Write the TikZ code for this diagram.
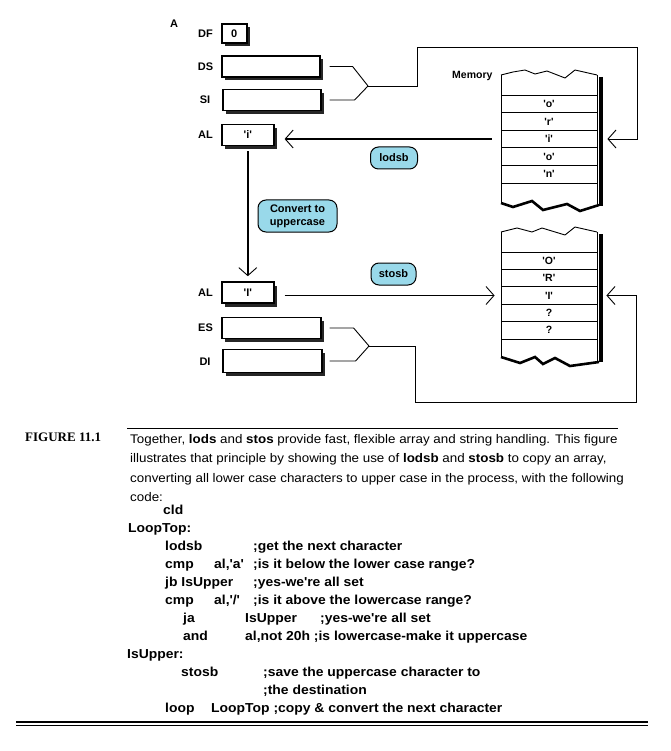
\documentclass[tikz,border=0pt]{standalone}
\usepackage{fontspec}
\setsansfont{Liberation Sans}
\newfontfamily\codefont[FakeStretch=1.07]{Liberation Sans}
\newfontfamily\capfont[FakeStretch=1.07]{Liberation Sans}
\newfontfamily\figfont{Liberation Serif}
\usetikzlibrary{arrows.meta,shadows}
\definecolor{bubbleblue}{RGB}{153,217,234}
\newcommand{\qt}[1]{\textquotesingle#1\textquotesingle}

\begin{document}
\begin{tikzpicture}[x=1pt,y=-1pt,
  lbl/.style={font=\sffamily\bfseries\fontsize{11}{12}\selectfont},
  reg/.style={draw, line width=1.6pt, fill=white, minimum height=21pt, inner sep=0pt,
    anchor=west, font=\sffamily\bfseries\fontsize{11}{12}\selectfont,
    drop shadow={shadow xshift=3.5pt, shadow yshift=-3.5pt, fill=black!85, opacity=1}},
  cell/.style={draw, line width=0.8pt, minimum width=96pt, inner sep=0pt,
    font=\sffamily\bfseries\fontsize{10.5}{11}\selectfont},
  bubble/.style={draw, line width=1pt, fill=bubbleblue, rounded corners=8pt, inner sep=0pt,
    align=center, font=\sffamily\bfseries\fontsize{11}{13}\selectfont},
  wire/.style={line width=0.9pt},
  bus/.style={line width=1.8pt},
  barb/.style={-{Straight Barb[length=8pt,width=18pt,line width=0.9pt]}},
  code/.style={anchor=base west, inner sep=0pt, font=\codefont\bfseries\fontsize{13}{15}\selectfont},
  captxt/.style={anchor=base west, inner sep=0pt, font=\capfont\fontsize{12.5}{15}\selectfont},
]
\useasboundingbox (0,0) rectangle (670,751);

% Registers
\node[lbl] (alabel) at (174,24) {A};
\node[lbl] (dflbl) at (205.5,34) {DF};
\node[reg, minimum width=25pt, minimum height=19pt] (df) at (221,33.5) {0};
\node[lbl] (dslbl) at (205.5,67) {DS};
\node[reg, minimum width=98pt] (ds) at (221,66.5) {};
\node[lbl] (silbl) at (205,100) {SI};
\node[reg, minimum width=98pt] (si) at (222,100) {};
\node[lbl] (allbl) at (205.5,135) {AL};
\node[reg, minimum width=52pt] (al) at (221,135) {\qt{i}};

\node[lbl] (al2lbl) at (205.5,293) {AL};
\node[reg, minimum width=52pt] (al2) at (221,292.5) {\qt{I}};
\node[lbl] (eslbl) at (205.5,328) {ES};
\node[reg, minimum width=99pt] (es) at (221,328) {};
\node[lbl] (dilbl) at (205,362) {DI};
\node[reg, minimum width=99pt, minimum height=23pt] (di) at (222,361) {};

% Memory, source
\node[lbl, anchor=east, font=\sffamily\bfseries\fontsize{10.5}{12}\selectfont] (memlbl) at (496,76) {Memory};
\draw[wire] (501,75) -- (513,72) -- (525,70) -- (535,74) -- (547,71) -- (565,78) -- (575,70) -- (597,75);
\draw[wire] (501,75) -- (501,204);
\draw[wire] (597,75) -- (597,206);
\foreach \t [count=\i] in {o,r,i,o,n}
  \node[cell, minimum height=17.6pt] (ma\i) at (549,{86.2+17.6*\i}) {\qt{\t}};
\draw[line width=2.6pt] (501,203) -- (513,207) -- (532,201) -- (543,210) -- (567,204) -- (580,211) -- (599,205);
\draw[line width=4pt] (600.5,77) -- (600.5,206);

% Memory, destination
\draw[wire] (501,232) -- (517,228) -- (532,232) -- (542,228) -- (565,235) -- (575,227) -- (597,232);
\draw[wire] (501,232) -- (501,358);
\draw[wire] (597,232) -- (597,362);
\foreach \t [count=\i] in {\qt{O},\qt{R},\qt{I},?,?}
  \node[cell, minimum height=17.4pt] (mb\i) at (549,{243.3+17.4*\i}) {\t};
\draw[line width=2.6pt] (501,357) -- (520,363) -- (535,357) -- (543,364) -- (555,358) -- (570,366) -- (599,362);
\draw[line width=4pt] (600.5,234) -- (600.5,362);

% Operations
\node[bubble, minimum width=47pt, minimum height=22pt] (lodsbb) at (394,158) {lodsb};
\node[bubble, minimum width=79pt, minimum height=32pt] (conv) at (297.5,216) {Convert to\\uppercase};
\node[bubble, minimum width=45pt, minimum height=22pt] (stosbb) at (393.5,274) {stosb};

% Address pairs into memory
\coordinate (j1) at (368,86);
\draw[wire] ([xshift=9pt]ds.east) -- ++(23,0) -- (j1);
\draw[wire] ([xshift=8pt]si.east) -- ++(25,0) -- (j1);
\draw[wire, barb, shorten >=10pt] (j1) -- (417,86) -- (417,47) -- (637,47) |- (ma3.east);

\coordinate (j2) at (369,346);
\draw[wire] ([xshift=8pt]es.east) -- ++(24,0) -- (j2);
\draw[wire] ([xshift=7pt]di.east) -- ++(26,0) -- (j2);
\draw[wire, barb, shorten >=9pt] (j2) -- (415,346) -- (415,402) -- (636,402) |- (mb3.east);

% Data flow
\draw[bus, barb, shorten <=9pt, shorten >=10pt] (ma3.west) -- (ma3.west -| al.east);
\draw[bus, barb, shorten <=5pt, shorten >=5pt] (al.south) -- (al2.north);
\draw[bus, barb, shorten <=10pt, shorten >=6pt] (al2.east |- mb3.west) -- (mb3.west);

% Caption
\draw[line width=1pt] (127,428) -- (618,428);
\node[anchor=base west, inner sep=0pt, font=\figfont\bfseries\fontsize{13}{15}\selectfont] (fig) at (25,441) {FIGURE 11.1};
\node[captxt] (cap1) at (130,443) {Together, \textbf{lods} and \textbf{stos} provide fast, flexible array and string handling. This figure};
\node[captxt] (cap2) at (130,462.5) {illustrates that principle by showing the use of \textbf{lodsb} and \textbf{stosb} to copy an array,};
\node[captxt] (cap3) at (130,482) {converting all lower case characters to upper case in the process, with the following};
\node[captxt] (cap4) at (130,501.5) {code:};

% Listing
\node[code] (c1) at (163,514) {cld};
\node[code] (c2) at (128,532.1) {LoopTop:};
\node[code] (c3) at (165,550.1) {lodsb};
\node[code] (c3r) at (253,550.1) {;get the next character};
\node[code] (c4) at (165,568.2) {cmp};
\node[code] (c4o) at (214,568.2) {al,\qt{a}};
\node[code] (c4r) at (253,568.2) {;is it below the lower case range?};
\node[code] (c5) at (165,586.2) {jb IsUpper};
\node[code] (c5r) at (253,586.2) {;yes-we\textquotesingle re all set};
\node[code] (c6) at (165,604.3) {cmp};
\node[code] (c6o) at (214,604.3) {al,\qt{/}};
\node[code] (c6r) at (253,604.3) {;is it above the lowercase range?};
\node[code] (c7) at (183,622.4) {ja};
\node[code] (c7o) at (245,622.4) {IsUpper};
\node[code] (c7r) at (320,622.4) {;yes-we\textquotesingle re all set};
\node[code] (c8) at (183,640.4) {and};
\node[code] (c8o) at (245,640.4) {al,not 20h ;is lowercase-make it uppercase};
\node[code] (c9) at (127,658.5) {IsUpper:};
\node[code] (c10) at (181,676.5) {stosb};
\node[code] (c10r) at (263,676.5) {;save the uppercase character to};
\node[code] (c11r) at (263,694.6) {;the destination};
\node[code] (c12) at (165,712.7) {loop};
\node[code] (c12o) at (211,712.7) {LoopTop ;copy \& convert the next character};

\draw[line width=1.2pt] (16,722) -- (648,722);
\draw[line width=1.2pt] (16,725.5) -- (648,725.5);
\end{tikzpicture}
\end{document}
